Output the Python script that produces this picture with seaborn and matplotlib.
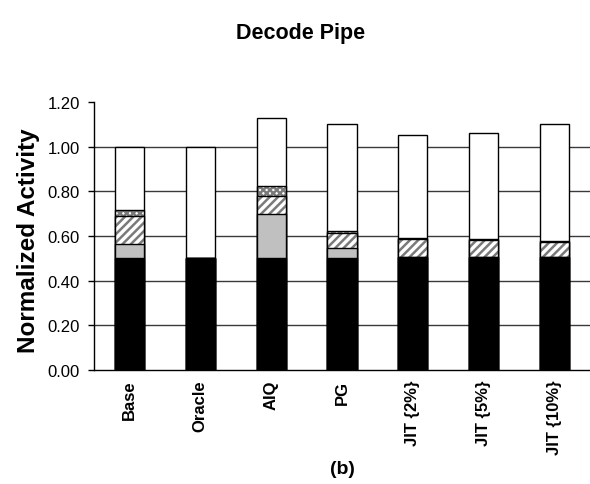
import matplotlib
matplotlib.use("Agg")
import matplotlib.pyplot as plt
import seaborn as sns
import numpy as np
import pandas as pd

categories = ["Base", "Oracle", "AIQ", "PG", "JIT {2%}", "JIT {5%}", "JIT {10%}"]
seg_black = [0.50, 0.50, 0.50, 0.50, 0.505, 0.505, 0.505]
seg_gray = [0.065, 0.00, 0.20, 0.045, 0.00, 0.00, 0.00]
seg_hatch = [0.125, 0.00, 0.08, 0.07, 0.08, 0.075, 0.07]
seg_dots = [0.025, 0.00, 0.045, 0.008, 0.007, 0.007, 0.003]
seg_white = [0.285, 0.50, 0.305, 0.477, 0.458, 0.473, 0.522]
yticks = [0.0, 0.2, 0.4, 0.6, 0.8, 1.0, 1.2]

sns.set_style("white")
plt.rcParams["font.family"] = ["Liberation Sans", "DejaVu Sans"]
plt.rcParams["hatch.linewidth"] = 1.8
plt.rcParams["text.color"] = "black"
plt.rcParams["xtick.color"] = "black"
plt.rcParams["ytick.color"] = "black"
plt.rcParams["axes.labelcolor"] = "black"

fig = plt.figure(figsize=(5.9, 4.85), dpi=100)
ax = fig.add_axes([94 / 590, 1 - 371 / 485, 496 / 590, (371 - 103) / 485])

b = np.array(seg_black)
g = b + np.array(seg_gray)
h = g + np.array(seg_hatch)
d = h + np.array(seg_dots)
w = d + np.array(seg_white)

W = 0.41
def bars(vals, **kw):
    df = pd.DataFrame({"cat": categories, "val": vals})
    sns.barplot(data=df, x="cat", y="val", order=categories, ax=ax, width=W,
                errorbar=None, saturation=1, **kw)

bars(w, color="white", edgecolor="black", linewidth=1)
bars(d, color="white", edgecolor="#7a7a7a", linewidth=0, hatch="xxxxx")
bars(d, color="black", fill=False, linewidth=1)
bars(h, color="white", edgecolor="#7a7a7a", linewidth=0, hatch="////")
bars(h, color="black", fill=False, linewidth=1)
bars(g, color="#c0c0c0", edgecolor="black", linewidth=1)
bars(b, color="black", edgecolor="black", linewidth=1)

ax.set_xlim(-0.5, 6.5)
ax.set_ylim(0, 1.2)
ax.set_yticks(yticks)
ax.set_yticklabels([f"{v:.2f}" for v in yticks], fontsize=12)
for v in yticks[1:-1]:
    ax.axhline(v, color="#3a3a3a", linewidth=1, zorder=0)
ax.set_axisbelow(True)

ax.set_xticks(range(len(categories)))
ax.set_xticklabels(categories, rotation=90, fontsize=12, fontweight="bold")
ax.tick_params(axis="x", which="major", length=0, pad=7)
ax.set_xticks(np.arange(0.5, 6.5, 1.0), minor=True)
ax.tick_params(axis="x", which="minor", length=4, width=1, color="black", direction="out")
ax.tick_params(axis="y", length=4, width=1, color="black", direction="out", pad=6, left=True)

for s in ["top", "right"]:
    ax.spines[s].set_visible(False)
for s in ["left", "bottom"]:
    ax.spines[s].set_color("black")
    ax.spines[s].set_linewidth(1)

ax.set_xlabel("")
ax.set_ylabel("")
fig.text(29 / 590, 1 - 241 / 485, "Normalized Activity", rotation=90, ha="center",
         va="center", fontsize=17.5, fontweight="bold")
fig.text(301 / 590, 1 - 33 / 485, "Decode Pipe", ha="center", va="center",
         fontsize=15.5, fontweight="bold")
fig.text(342 / 590, 1 - 470 / 485, "(b)", ha="center", va="center",
         fontsize=14, fontweight="bold")

fig.savefig("out.png", dpi=100)
